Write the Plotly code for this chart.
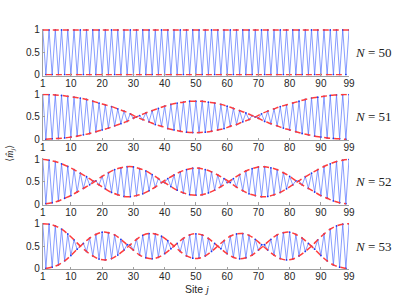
import plotly.graph_objects as go

# ---------------- data ----------------
sites = list(range(1, 100))
x_ticks = [1, 10, 20, 30, 40, 50, 60, 70, 80, 90, 99]
y_ticks = [0, 0.5, 1]
y_tick_labels = ["0", "0.5", "1"]
panel_labels = ["<i>N</i> = 50", "<i>N</i> = 51", "<i>N</i> = 52", "<i>N</i> = 53"]

m_N50 = [1, 0, 1, 0, 1, 0, 1, 0, 1, 0,
         1, 0, 1, 0, 1, 0, 1, 0, 1, 0,
         1, 0, 1, 0, 1, 0, 1, 0, 1, 0,
         1, 0, 1, 0, 1, 0, 1, 0, 1, 0,
         1, 0, 1, 0, 1, 0, 1, 0, 1, 0,
         1, 0, 1, 0, 1, 0, 1, 0, 1, 0,
         1, 0, 1, 0, 1, 0, 1, 0, 1, 0,
         1, 0, 1, 0, 1, 0, 1, 0, 1, 0,
         1, 0, 1, 0, 1, 0, 1, 0, 1, 0,
         1, 0, 1, 0, 1, 0, 1, 0, 1]

m_N51 = [1.00, 0.00, 1.00, 0.01, 0.99, 0.02, 0.98, 0.03, 0.96, 0.05,
         0.94, 0.07, 0.92, 0.10, 0.89, 0.13, 0.85, 0.17, 0.81, 0.21,
         0.77, 0.25, 0.73, 0.30, 0.68, 0.35, 0.63, 0.40, 0.57, 0.47,
         0.50, 0.53, 0.44, 0.59, 0.39, 0.64, 0.33, 0.69, 0.29, 0.74,
         0.24, 0.78, 0.21, 0.81, 0.18, 0.83, 0.16, 0.85, 0.15, 0.85,
         0.15, 0.85, 0.16, 0.83, 0.18, 0.81, 0.21, 0.78, 0.24, 0.74,
         0.29, 0.69, 0.33, 0.64, 0.39, 0.59, 0.44, 0.53, 0.50, 0.47,
         0.57, 0.40, 0.63, 0.35, 0.68, 0.30, 0.73, 0.25, 0.77, 0.21,
         0.81, 0.17, 0.85, 0.13, 0.89, 0.10, 0.92, 0.07, 0.94, 0.05,
         0.96, 0.03, 0.98, 0.02, 0.99, 0.01, 1.00, 0.00, 1.00]

m_N52 = [1.00, 0.01, 0.98, 0.03, 0.95, 0.07, 0.90, 0.13, 0.84, 0.19,
         0.77, 0.27, 0.69, 0.35, 0.61, 0.43, 0.52, 0.52, 0.43, 0.62,
         0.34, 0.70, 0.26, 0.77, 0.21, 0.81, 0.17, 0.835, 0.165, 0.83,
         0.19, 0.79, 0.23, 0.74, 0.30, 0.66, 0.38, 0.57, 0.48, 0.48,
         0.57, 0.39, 0.65, 0.31, 0.72, 0.25, 0.77, 0.21, 0.80, 0.20,
         0.80, 0.21, 0.77, 0.25, 0.72, 0.31, 0.65, 0.39, 0.57, 0.48,
         0.48, 0.57, 0.38, 0.66, 0.30, 0.74, 0.23, 0.79, 0.19, 0.83,
         0.165, 0.835, 0.17, 0.81, 0.21, 0.77, 0.26, 0.70, 0.34, 0.62,
         0.43, 0.52, 0.52, 0.43, 0.61, 0.35, 0.69, 0.27, 0.77, 0.19,
         0.84, 0.13, 0.90, 0.07, 0.95, 0.03, 0.98, 0.01, 1.00]

m_N53 = [1.00, 0.00, 0.99, 0.03, 0.95, 0.08, 0.88, 0.17, 0.77, 0.29,
         0.64, 0.43, 0.50, 0.56, 0.38, 0.68, 0.28, 0.76, 0.21, 0.81,
         0.19, 0.80, 0.22, 0.75, 0.30, 0.65, 0.41, 0.53, 0.53, 0.41,
         0.65, 0.30, 0.74, 0.24, 0.78, 0.215, 0.77, 0.25, 0.72, 0.33,
         0.62, 0.44, 0.50, 0.56, 0.38, 0.67, 0.28, 0.75, 0.23, 0.775,
         0.23, 0.75, 0.28, 0.67, 0.38, 0.56, 0.50, 0.44, 0.62, 0.33,
         0.72, 0.25, 0.77, 0.215, 0.78, 0.24, 0.74, 0.30, 0.65, 0.41,
         0.53, 0.53, 0.41, 0.65, 0.30, 0.75, 0.22, 0.80, 0.19, 0.81,
         0.21, 0.76, 0.28, 0.68, 0.38, 0.56, 0.50, 0.43, 0.64, 0.29,
         0.77, 0.17, 0.88, 0.08, 0.95, 0.03, 0.99, 0.00, 1.00]

series = [m_N50, m_N51, m_N52, m_N53]

# ---------------- styling / layout ----------------
W, H = 399, 302
x_left, x_right = 40.7, 354.0
tops = [25.8, 92.6, 159.6, 226.2]
ph = 46.3
pad = 0.02
BLUE = "rgb(85,115,255)"
BLUE_DOT = "rgb(30,55,235)"
RED = "rgb(255,60,60)"
AX = "#a0a0a0"
TICKFONT = dict(family="Liberation Sans, Arial, sans-serif", size=10, color="#262626")

fig = go.Figure()
layout = dict(width=W, height=H, autosize=False,
              margin=dict(l=0, r=0, t=0, b=0, pad=0),
              paper_bgcolor="white", plot_bgcolor="white",
              showlegend=False, annotations=[])

for i, vals in enumerate(series):
    k = i + 1
    xs = "x" if k == 1 else f"x{k}"
    ys = "y" if k == 1 else f"y{k}"
    fig.add_trace(go.Scatter(x=sites, y=vals, mode="lines+markers",
                             line=dict(color=BLUE, width=0.7),
                             marker=dict(size=1.8, color=BLUE_DOT),
                             xaxis=xs, yaxis=ys, hoverinfo="skip"))
    for start in (0, 1):
        fig.add_trace(go.Scatter(x=sites[start::2], y=vals[start::2], mode="lines",
                                 line=dict(color=RED, width=1.5, dash="6px,4px",
                                           shape="spline", smoothing=1.0),
                                 xaxis=xs, yaxis=ys, hoverinfo="skip"))
    top = tops[i]
    bot = top + ph
    xkey = "xaxis" if k == 1 else f"xaxis{k}"
    ykey = "yaxis" if k == 1 else f"yaxis{k}"
    layout[xkey] = dict(domain=[x_left / W, x_right / W], range=[1, 99],
                        tickmode="array", tickvals=x_ticks,
                        ticks="inside", ticklen=2.5, tickcolor=AX, tickwidth=1,
                        ticklabelstandoff=-2,
                        showline=True, linecolor=AX, linewidth=1,
                        showgrid=False, zeroline=False, tickfont=TICKFONT,
                        anchor=ys, fixedrange=True)
    layout[ykey] = dict(domain=[1 - (bot + pad * ph) / H, 1 - (top - pad * ph) / H],
                        range=[-pad, 1 + pad],
                        tickmode="array", tickvals=y_ticks, ticktext=y_tick_labels,
                        ticks="inside", ticklen=2.5, tickcolor=AX, tickwidth=1,
                        showline=True, linecolor=AX, linewidth=1,
                        showgrid=False, zeroline=False, tickfont=TICKFONT,
                        anchor=xs, fixedrange=True)
    layout["annotations"].append(dict(
        text=panel_labels[i], xref="paper", yref="paper",
        x=358 / W, y=1 - (top + ph / 2) / H, xanchor="left", yanchor="middle",
        showarrow=False,
        font=dict(family="Liberation Serif, DejaVu Serif, serif", size=13, color="#222")))

layout["annotations"].append(dict(
    text="⟨<i>m̂</i><sub><i>j</i></sub>⟩", xref="paper", yref="paper",
    x=8 / W, y=1 - 153 / H, xanchor="center", yanchor="middle", textangle=-90,
    showarrow=False,
    font=dict(family="Liberation Serif, DejaVu Serif, serif", size=10, color="#333")))

layout["annotations"].append(dict(
    text='Site <span style="font-family:Liberation Serif"><i>j</i></span>',
    xref="paper", yref="paper",
    x=198 / W, y=1 - 293.5 / H, xanchor="center", yanchor="middle",
    showarrow=False,
    font=dict(family="Liberation Sans, Arial, sans-serif", size=10.5, color="#262626")))

fig.update_layout(**layout)
fig.write_html("out.html", config={"displayModeBar": False},
               post_script="document.body.style.margin='0';document.body.style.overflow='hidden';")
